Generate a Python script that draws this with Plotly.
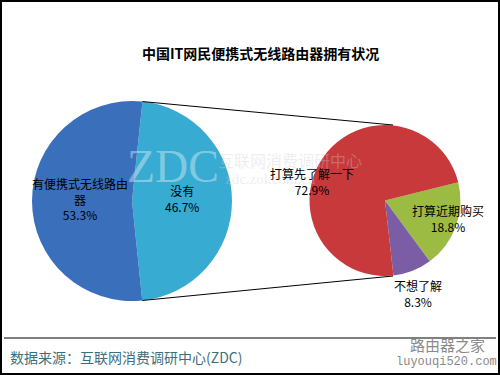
import math
import plotly.graph_objects as go

W, H = 500, 375

title_text = "中国IT网民便携式无线路由器拥有状况"
main_labels = ["没有", "有便携式无线路由器"]
main_values = [46.7, 53.3]
main_colors = ["#38ABD2", "#3A6FBC"]

sub_labels = ["打算近期购买", "不想了解", "打算先了解一下"]
sub_values = [18.8, 8.3, 72.9]
sub_colors = ["#9BBB42", "#7B5DA6", "#C7393A"]

source_text = "数据来源：互联网消费调研中心(ZDC)"

# geometry (pixels)
L_CX, L_CY, L_R = 132, 201, 100
R_CX, R_CY, R_R = 385, 200.5, 75.5
L_ROT = 6
R_ROT = 76


def px(x):
    return x / W


def py(y):
    return 1 - y / H


fig = go.Figure()
fig.add_trace(go.Pie(
    labels=main_labels, values=main_values, sort=False, direction="clockwise",
    rotation=L_ROT, marker=dict(colors=main_colors, line=dict(width=0)),
    textinfo="none", hoverinfo="label+percent", showlegend=False,
    domain=dict(x=[px(L_CX - L_R), px(L_CX + L_R)], y=[py(L_CY + L_R), py(L_CY - L_R)]),
))
fig.add_trace(go.Pie(
    labels=sub_labels, values=sub_values, sort=False, direction="clockwise",
    rotation=R_ROT, marker=dict(colors=sub_colors, line=dict(width=0)),
    textinfo="none", hoverinfo="label+percent", showlegend=False,
    domain=dict(x=[px(R_CX - R_R), px(R_CX + R_R)], y=[py(R_CY + R_R), py(R_CY - R_R)]),
))

# connector lines: from edges of the "没有" slice to top/bottom of the right pie
a0 = math.radians(L_ROT)
a1 = math.radians(L_ROT + 360 * main_values[0] / sum(main_values))
p_top = (L_CX + L_R * math.sin(a0), L_CY - L_R * math.cos(a0))
p_bot = (L_CX + L_R * math.sin(a1), L_CY - L_R * math.cos(a1))
q_top = (R_CX + 8, R_CY - R_R)
q_bot = (R_CX + 8, R_CY + R_R)
shapes = []
for p, q in [(p_top, q_top), (p_bot, q_bot)]:
    shapes.append(dict(type="line", xref="paper", yref="paper",
                       x0=px(p[0]), y0=py(p[1]), x1=px(q[0]), y1=py(q[1]),
                       line=dict(color="#000000", width=1)))
# frame and footer rule
shapes.append(dict(type="rect", xref="paper", yref="paper", x0=px(1), y0=py(374), x1=px(499), y1=py(1),
                   line=dict(color="#000000", width=2)))
shapes.append(dict(type="line", xref="paper", yref="paper", x0=px(4), y0=py(338), x1=px(496), y1=py(338),
                   line=dict(color="#000000", width=1)))

FONT = "Noto Sans CJK SC"
ann = []


def label(x, y, text, size=12, color="#000000", family=FONT, xanchor="center"):
    ann.append(dict(x=px(x), y=py(y), xref="paper", yref="paper", text=text, showarrow=False,
                    xanchor=xanchor, yanchor="middle",
                    font=dict(family=family, size=size, color=color)))


# watermark
label(173, 166, "ZDC", size=46, color="rgba(220,240,248,0.45)", family="Liberation Serif")
label(290, 160, "互联网消费调研中心", size=16, color="rgba(205,205,205,0.35)")
label(270, 179, "zdc.zol.com.cn", size=15, color="rgba(205,205,205,0.35)", family="Liberation Serif")

pct = lambda v: f"{v:.1f}%"
label(80, 199, "有便携式无线路由<br>器<br>" + pct(main_values[1]))
label(182, 199, main_labels[0] + "<br>" + pct(main_values[0]))
label(312, 181, sub_labels[2] + "<br>" + pct(sub_values[2]))
label(448, 218, sub_labels[0] + "<br>" + pct(sub_values[0]))
label(418, 293, sub_labels[1] + "<br>" + pct(sub_values[1]))

label(260, 53, "<b>" + title_text + "</b>", size=14)
label(8, 357, source_text, size=14, color="#3D6E7C", xanchor="left")
label(447, 344, "路由器之家", size=15, color="#8A8A8A")
label(446, 362, "luyouqi520.com", size=12, color="#8A8A8A", family="Liberation Mono")

fig.update_layout(
    width=W, height=H, margin=dict(l=0, r=0, t=0, b=0),
    paper_bgcolor="#FFFFFF", plot_bgcolor="#FFFFFF",
    shapes=shapes, annotations=ann, showlegend=False,
)

fig.write_html("out.html", config={"displayModeBar": False},
               post_script="document.body.style.margin='0px';")
